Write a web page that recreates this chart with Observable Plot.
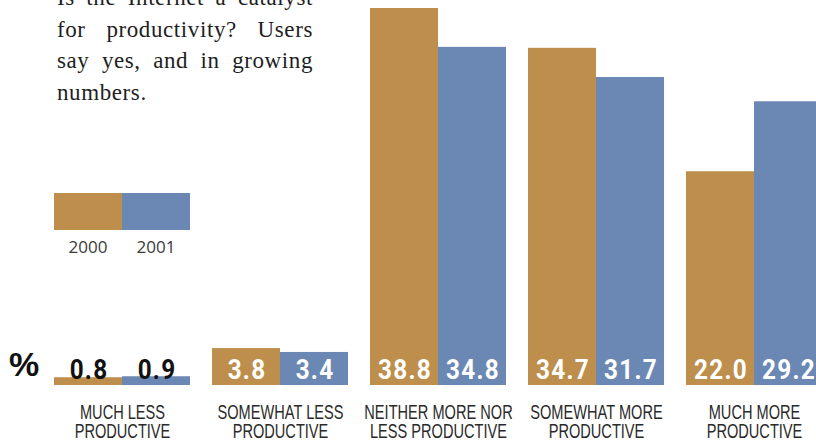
<!DOCTYPE html>
<html>
<head>
<meta charset="utf-8">
<script src="https://cdn.jsdelivr.net/npm/d3@7"></script>
<script src="https://cdn.jsdelivr.net/npm/@observablehq/plot@0.6"></script>
<style>
  html, body { margin: 0; padding: 0; background: #fff; }
  #wrap { position: relative; width: 816px; height: 447px; overflow: hidden; background: #fff; }
  #chart { position: absolute; left: 0; top: 0; }
  #intro { position: absolute; left: 57px; top: -18px; width: 256px; font-family: "Liberation Serif", serif; font-size: 23px; letter-spacing: 0.6px; line-height: 31.5px; color: #1e1e1e; }
  #intro div { text-align: justify; text-align-last: justify; white-space: nowrap; }
  #intro div.last { text-align-last: left; }
  .legend-sw { position: absolute; top: 193px; height: 37px; width: 68px; }
  .legend-lb { position: absolute; top: 237px; width: 68px; text-align: center; font-family: "Open Sans", sans-serif; font-weight: 400; font-size: 17px; color: #3a3a3a; line-height: 20px; }
  #pct { position: absolute; left: 9px; top: 347px; font-family: "Liberation Sans", sans-serif; font-weight: bold; font-size: 34px; line-height: 34px; color: #111; }
</style>
</head>
<body>
<div id="wrap">
  <div id="chart"></div>
  <div id="intro"></div>
  <div id="legend"></div>
  <div id="pct">%</div>
</div>
<script>
// ---- data ----
const categories = [
  "MUCH LESS\nPRODUCTIVE",
  "SOMEWHAT LESS\nPRODUCTIVE",
  "NEITHER MORE NOR\nLESS PRODUCTIVE",
  "SOMEWHAT MORE\nPRODUCTIVE",
  "MUCH MORE\nPRODUCTIVE"
];
const years = ["2000", "2001"];
const values2000 = [0.8, 3.8, 38.8, 34.7, 22.0];
const values2001 = [0.9, 3.4, 34.8, 31.7, 29.2];
const introLines = [
  "Is the Internet a catalyst",
  "for productivity? Users",
  "say yes, and in growing",
  "numbers."
];
const colors = ["#BE8E4D", "#6B88B4"];

// ---- build table ----
const rows = [];
categories.forEach((c, i) => {
  rows.push({category: c, year: years[0], value: values2000[i]});
  rows.push({category: c, year: years[1], value: values2001[i]});
});

const fontBold = "Roboto, 'Liberation Sans', sans-serif";
const fontCat = "'Liberation Sans', sans-serif";

const chart = Plot.plot({
  width: 816,
  height: 447,
  margin: 0,
  style: {background: "transparent", overflow: "hidden"},
  fx: {domain: categories, range: [54, 822], paddingInner: 22 / 158, paddingOuter: 0, axis: null},
  x: {domain: years, padding: 0, axis: null},
  y: {domain: [0, 38.8], range: [385, 8], axis: null},
  color: {domain: years, range: colors},
  marks: [
    Plot.barY(rows, {fx: "category", x: "year", y: "value", fill: "year"}),
    Plot.text(rows, {
      fx: "category", x: "year", y: 0,
      text: d => d.value.toFixed(1),
      lineAnchor: "bottom", dy: -7, dx: 0.5,
      fill: d => d.value < 2 ? "#111" : "#fff",
      fontFamily: fontBold, fontWeight: "bold", fontSize: 27
    }),
    Plot.text(categories, {
      fx: d => d, y: 0, text: d => d,
      lineAnchor: "top", dy: 20, lineHeight: 0.95,
      fill: "#2a2a2a", fontFamily: fontCat, fontSize: 20
    })
  ]
});

// condense label text horizontally around each label's anchor
function condense(t, s) {
  const tr = t.getAttribute("transform");
  if (tr) {
    t.setAttribute("transform", tr + ` scale(${s},1)`);
  } else {
    const x = +(t.getAttribute("x") || 0);
    t.setAttribute("transform", `translate(${x * (1 - s)},0) scale(${s},1)`);
  }
}
chart.querySelectorAll("text").forEach(t => {
  const isValue = /^[\d.]+$/.test(t.textContent.trim());
  if (isValue) {
    t.style.letterSpacing = "1.4px";
    condense(t, 0.9);
  } else {
    condense(t, 0.73);
  }
});
document.getElementById("chart").appendChild(chart);

// ---- intro text ----
const intro = document.getElementById("intro");
introLines.forEach((t, i) => {
  const d = document.createElement("div");
  d.textContent = t;
  if (i === introLines.length - 1) d.className = "last";
  intro.appendChild(d);
});

// ---- legend ----
const legend = document.getElementById("legend");
years.forEach((y, i) => {
  const sw = document.createElement("div");
  sw.className = "legend-sw";
  sw.style.left = (54 + 68 * i) + "px";
  sw.style.background = colors[i];
  legend.appendChild(sw);
  const lb = document.createElement("div");
  lb.className = "legend-lb";
  lb.style.left = (54 + 68 * i) + "px";
  lb.textContent = y;
  legend.appendChild(lb);
});
</script>
</body>
</html>
